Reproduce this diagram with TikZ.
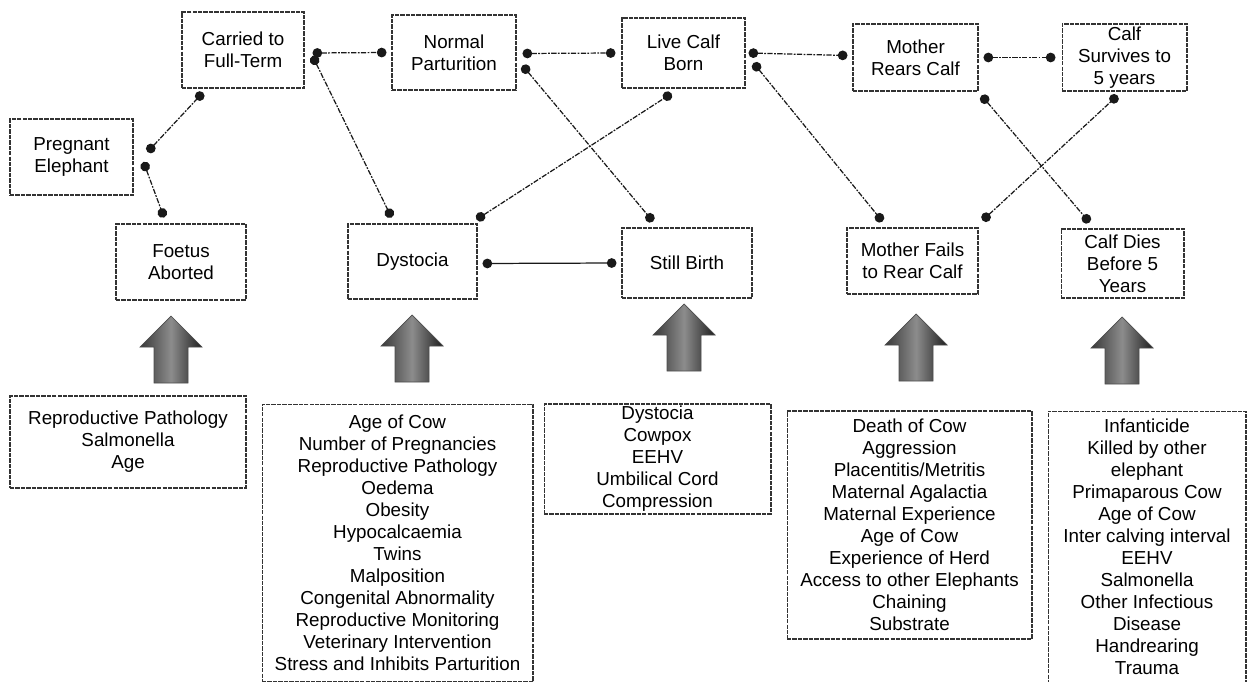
\documentclass[tikz,border=0pt]{standalone}
\usepackage{fontspec}
\setmainfont{Liberation Sans}
\usetikzlibrary{positioning,arrows.meta,calc}

\begin{document}
\begin{tikzpicture}[
    x=0.02cm, y=-0.02cm,
    every node/.style={font=\fontsize{10.7}{12.5}\selectfont, align=center},
    event/.style={draw=black!80, line width=0.6pt, dash pattern=on 2.5pt off 0.6pt, inner sep=0pt, minimum width=2.5cm, minimum height=1.44cm},
    factors/.style={draw=black!80, line width=0.6pt, dash pattern=on 2.5pt off 0.6pt, inner sep=0pt},
    link/.style={{Circle[length=5.5pt]}-{Circle[length=5.5pt]}, line width=0.7pt, black!90, dash pattern=on 3pt off 0.8pt on 1pt off 0.8pt},
    bigarrow/.style={draw=black!70, line width=0.4pt, left color=black!78, right color=black!88, middle color=black!45}
]
\useasboundingbox (0,0) rectangle (1250,682);

% outcome boxes
\node[event, minimum width=2.44cm, minimum height=1.52cm] (carried) at (243,50) {Carried to\\Full-Term};
\node[event, minimum width=2.46cm, minimum height=1.52cm] (preg) at (71.5,157) {Pregnant\\Elephant};
\node[event, minimum width=2.6cm, minimum height=1.52cm] (foetus) at (181,262) {Foetus\\Aborted};
\node[event, minimum width=2.48cm, minimum height=1.5cm] (normal) at (454,52.5) {Normal\\Parturition};
\node[event, minimum width=2.46cm, minimum height=1.4cm] (live) at (683.5,53) {Live Calf\\Born};
\node[event, minimum width=2.58cm, minimum height=1.5cm] (dyst) at (412.5,261.5) {Dystocia};
\node[event, minimum width=2.6cm, minimum height=1.4cm] (still) at (687,263) {Still Birth};
\node[event, minimum height=1.34cm] (rears) at (915.5,57.5) {Mother\\Rears Calf};
\node[event, minimum height=1.34cm] (survives) at (1124.5,57.5) {Calf\\Survives to\\5 years};
\node[event, minimum width=2.62cm, minimum height=1.32cm] (fails) at (912.5,261) {Mother Fails\\to Rear Calf};
\node[event, minimum width=2.46cm, minimum height=1.38cm] (dies) at (1122.5,263.5) {Calf Dies\\Before 5\\Years};

% risk factors
\node[factors, minimum width=4.72cm, minimum height=1.84cm] (foetusF) at (128,442) {Reproductive Pathology\\Salmonella\\Age};
\node[factors, minimum width=5.42cm, minimum height=5.56cm] (dystF) at (397.5,543) {Age of Cow\\Number of Pregnancies\\Reproductive Pathology\\Oedema\\Obesity\\Hypocalcaemia\\Twins\\Malposition\\Congenital Abnormality\\Reproductive Monitoring\\Veterinary Intervention\\Stress and Inhibits Parturition};
\node[factors, minimum width=4.54cm, minimum height=2.2cm] (stillF) at (657.5,459) {Dystocia\\Cowpox\\EEHV\\Umbilical Cord\\Compression};
\node[factors, minimum width=4.9cm, minimum height=4.56cm] (failsF) at (909.5,525) {Death of Cow\\Aggression\\Placentitis/Metritis\\Maternal Agalactia\\Maternal Experience\\Age of Cow\\Experience of Herd\\Access to other Elephants\\Chaining\\Substrate};
\node[factors, minimum width=3.96cm, minimum height=5.44cm] (diesF) at (1147,547) {Infanticide\\Killed by other\\elephant\\Primaparous Cow\\Age of Cow\\Inter calving interval\\EEHV\\Salmonella\\Other Infectious\\Disease\\Handrearing\\Trauma};

% block arrows
\foreach \ax/\ay in {171/316, 412/315, 684/304, 916/314, 1122/317}
  \shade[bigarrow] (\ax,\ay) -- ++(31,31) -- ++(-14,0) -- ++(0,36) -- ++(-34,0) -- ++(0,-36) -- ++(-14,0) -- cycle;

% links
\draw[link] ($(preg.east)+(14,-5)$) -- ($(carried.south)+(-40,4)$);
\draw[link] ($(preg.east)+(10,5)$) -- ($(foetus.north)+(-17,-6)$);
\draw[link] ($(carried.east)+(8,3)$) -- ($(normal.west)+(-5,0)$);
\draw[link] ($(carried.east)+(8,6)$) -- ($(dyst.north)+(-21,-6)$);
\draw[link] ($(normal.east)+(6,1)$) -- ($(live.west)+(-6,0)$);
\draw[link] ($(normal.east)+(6,13)$) -- ($(still.north)+(-34,-6)$);
\draw[link] ($(dyst.north east)+(-1,-4)$) -- ($(live.south)+(-12,5)$);
\draw[link, solid] ($(dyst.east)+(5,2)$) -- ($(still.west)+(-5,0)$);
\draw[link] ($(live.east)+(3,0)$) -- ($(rears.west)+(-5,-2)$);
\draw[link] ($(live.east)+(8,10)$) -- ($(fails.north)+(-30,-6)$);
\draw[link] ($(rears.east)+(5,0)$) -- ($(survives.west)+(-6,0)$);
\draw[link] ($(rears.south east)+(3,4)$) -- ($(dies.north)+(-33,-6)$);
\draw[link] ($(fails.north east)+(4,-7)$) -- ($(survives.south)+(-7,4)$);
\end{tikzpicture}
\end{document}
